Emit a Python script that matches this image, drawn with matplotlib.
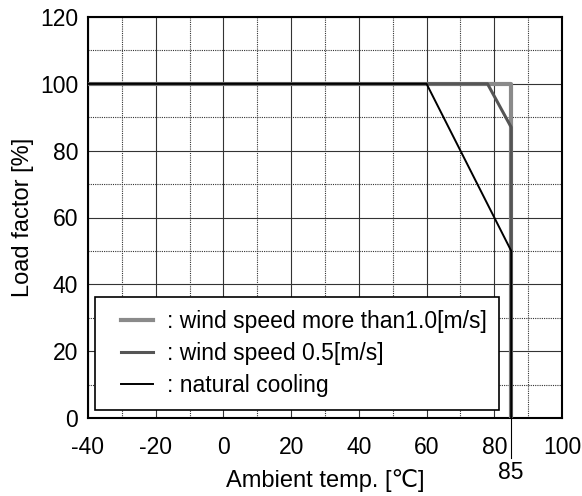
import numpy as np
import matplotlib.pyplot as plt
from matplotlib.legend_handler import HandlerLine2D

plt.rcParams['font.family'] = ['Liberation Sans', 'DejaVu Sans']
plt.rcParams['axes.unicode_minus'] = False

# derating curves (ambient temp [C], load factor [%])
temp_wind_1 = [-40, 85, 85]
load_wind_1 = [100, 100, 0]
temp_wind_05 = [-40, 78, 85, 85]
load_wind_05 = [100, 100, 87, 0]
temp_natural = [-40, 60, 85, 85]
load_natural = [100, 100, 50, 0]

labels = [': wind speed more than1.0[m/s]', ': wind speed 0.5[m/s]', ': natural cooling']
colors = ['#8a8a8a', '#555555', '#000000']
widths = [3.0, 2.2, 1.4]

x_ticks = [-40, -20, 0, 20, 40, 60, 80, 100]
y_ticks = [0, 20, 40, 60, 80, 100, 120]


class ShiftedLine(HandlerLine2D):
    # legend line drawn with extra blank space on its left
    def create_artists(self, legend, orig_handle, xdescent, ydescent, width, height, fontsize, trans):
        return super().create_artists(legend, orig_handle, xdescent - 10, ydescent,
                                      width - 10, height, fontsize, trans)


fig = plt.figure(figsize=(5.82, 4.96), dpi=100)
ax = fig.add_axes([88 / 582, 78 / 496, 474 / 582, 401 / 496])

lines = []
for tx, ly, lab, c, w in zip([temp_wind_1, temp_wind_05, temp_natural],
                             [load_wind_1, load_wind_05, load_natural],
                             labels, colors, widths):
    ln, = ax.plot(tx, ly, color=c, lw=w, label=lab, zorder=3)
    lines.append(ln)

ax.set_xlim(-40, 100)
ax.set_ylim(0, 120)
ax.set_xticks(x_ticks)
ax.set_yticks(y_ticks)
ax.set_xticks(np.arange(-30, 100, 20), minor=True)
ax.set_yticks(np.arange(10, 120, 20), minor=True)
ax.grid(which='major', color='#333333', lw=0.8, ls='-')
ax.grid(which='minor', color='#333333', lw=0.8, ls=(0, (1, 1)))
ax.tick_params(which='both', length=0, labelsize=16.5)
ax.tick_params(axis='x', pad=13)
ax.tick_params(axis='y', pad=7)
for s in ax.spines.values():
    s.set_linewidth(1.5)

# 85 marker below axis
trans = ax.get_xaxis_transform()
ax.plot([85, 85], [0, -0.1], color='black', lw=0.8, transform=trans, clip_on=False)
ax.text(85, -0.135, '85', transform=trans, ha='center', va='center', fontsize=16.5)

ax.set_xlabel('Ambient temp. [\u2103]', fontsize=17, labelpad=7)
ax.set_ylabel('Load factor [%]', fontsize=17, labelpad=4)

leg = ax.legend(handles=lines, loc='lower left', bbox_to_anchor=(0.014, 0.02), fontsize=16.5,
                fancybox=False, edgecolor='black', framealpha=1,
                handlelength=2.0, handletextpad=0.6, borderpad=0.55,
                labelspacing=0.4, borderaxespad=0,
                handler_map={ln: ShiftedLine() for ln in lines})
leg.get_frame().set_linewidth(1.2)
leg.set_zorder(5)

fig.savefig('out.png', dpi=100)
